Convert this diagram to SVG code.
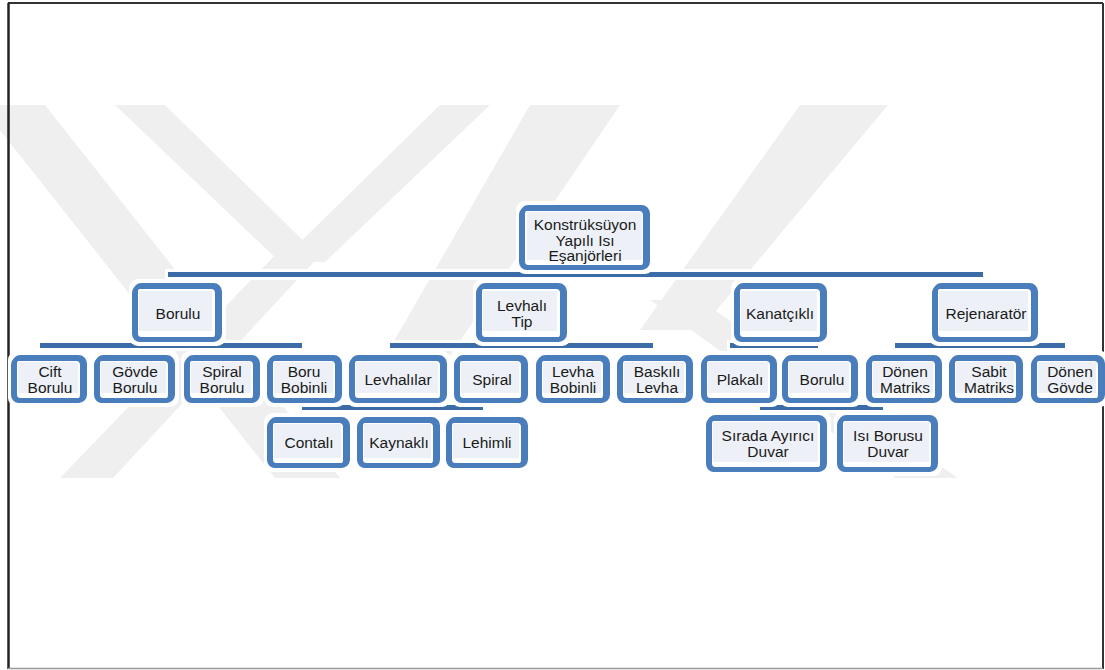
<svg xmlns="http://www.w3.org/2000/svg" width="1105" height="670" viewBox="0 0 1105 670">
<style>
.wm{fill:#efefef}
.halo{fill:#ffffff}
.b1{fill:#ffffff;stroke:#4a7dbc;stroke-width:5}
.b2{fill:none;stroke:#4a7dbc;stroke-width:4}
.in{fill:#edf1f7}
.bar{fill:#3c6ca8}
.barh{fill:#ffffff}
text{font-family:"Liberation Sans",Arial,sans-serif;font-size:15.5px;fill:#1a1a1a;text-anchor:middle}
</style>
<rect x="0" y="0" width="1105" height="670" fill="#ffffff"/>
<g id="watermark">
<polygon class="wm" points="-20,105 45,105 340,478 275,478"/>
<polygon class="wm" points="115,105 165,105 325,262 280,262"/>
<polygon class="wm" points="440,105 490,105 325,262 280,262"/>
<polygon class="wm" points="280,250 325,250 113,478 60,478"/>
<polygon class="wm" points="530,105 620,105 420,400 360,400"/>
<polygon class="wm" points="800,105 888,105 700,330 640,330"/>
<polygon class="wm" points="650,300 700,300 958,478 895,478"/>
</g>
<g id="frame">
<line x1="8" y1="3" x2="1103" y2="3" stroke="#333" stroke-width="2"/>
<line x1="8.5" y1="3" x2="8.5" y2="669" stroke="#222" stroke-width="2.5"/>
<line x1="1103" y1="3" x2="1103" y2="669" stroke="#333" stroke-width="2"/>
<line x1="8" y1="668.5" x2="1103" y2="668.5" stroke="#999" stroke-width="1.5"/>
</g>
<g id="connectors">
<rect class="barh" x="165" y="269" width="821" height="11"/>
<rect class="bar" x="168" y="272" width="815" height="5"/>
<rect class="barh" x="37" y="340" width="268" height="11"/>
<rect class="bar" x="40" y="343" width="262" height="5"/>
<rect class="barh" x="387" y="340" width="269" height="11"/>
<rect class="bar" x="390" y="343" width="263" height="5"/>
<rect class="barh" x="727" y="340" width="94" height="11"/>
<rect class="bar" x="730" y="343" width="88" height="5"/>
<rect class="barh" x="892" y="340" width="176" height="11"/>
<rect class="bar" x="895" y="343" width="170" height="5"/>
<rect class="barh" x="299" y="402" width="187" height="11"/>
<rect class="bar" x="302" y="405" width="181" height="5"/>
<rect class="barh" x="757" y="402" width="129" height="11"/>
<rect class="bar" x="760" y="405" width="123" height="5"/>
</g>
<g id="root">
<rect class="halo" x="516" y="201" width="138" height="73" rx="9"/>
<rect class="b1" x="522.5" y="207.5" width="125" height="60" rx="6"/>
<rect class="b2" x="521" y="209" width="124" height="59" rx="6"/>
<rect class="in" x="527" y="212" width="115" height="48"/>
<text x="585" y="230">Konstrüksüyon</text>
<text x="585" y="245.5">Yapılı Isı</text>
<text x="585" y="261">Eşanjörleri</text>
</g>
<g id="n-borulu">
<rect class="halo" x="129" y="279" width="97" height="67" rx="9"/>
<rect class="b1" x="135.5" y="285.5" width="84" height="54" rx="6"/>
<rect class="b2" x="134" y="287" width="83" height="53" rx="6"/>
<rect class="in" x="139" y="291" width="73" height="40"/>
<text x="178" y="319">Borulu</text>
</g>
<g id="n-levhali">
<rect class="halo" x="473" y="279" width="98" height="67" rx="9"/>
<rect class="b1" x="479.5" y="285.5" width="85" height="54" rx="6"/>
<rect class="b2" x="478" y="287" width="84" height="53" rx="6"/>
<rect class="in" x="483" y="291" width="74" height="40"/>
<text x="522" y="311">Levhalı</text>
<text x="522" y="327">Tip</text>
</g>
<g id="n-kanatcikli">
<rect class="halo" x="731" y="279" width="100" height="67" rx="9"/>
<rect class="b1" x="737.5" y="285.5" width="87" height="54" rx="6"/>
<rect class="b2" x="736" y="287" width="86" height="53" rx="6"/>
<rect class="in" x="741" y="291" width="76" height="40"/>
<text x="780" y="319">Kanatçıklı</text>
</g>
<g id="n-rejenarator">
<rect class="halo" x="929" y="279" width="113" height="67" rx="9"/>
<rect class="b1" x="935.5" y="285.5" width="100" height="54" rx="6"/>
<rect class="b2" x="934" y="287" width="99" height="53" rx="6"/>
<rect class="in" x="939" y="291" width="89" height="40"/>
<text x="986" y="319">Rejenaratör</text>
</g>
<g id="n-cift">
<rect class="halo" x="8" y="351" width="83" height="56" rx="9"/>
<rect class="b1" x="14.5" y="357.5" width="70" height="43" rx="6"/>
<rect class="b2" x="13" y="359" width="69" height="42" rx="6"/>
<rect class="in" x="18" y="362" width="60" height="31"/>
<text x="50" y="377">Cift</text>
<text x="50" y="393">Borulu</text>
</g>
<g id="n-govde">
<rect class="halo" x="91" y="351" width="88" height="56" rx="9"/>
<rect class="b1" x="97.5" y="357.5" width="75" height="43" rx="6"/>
<rect class="b2" x="96" y="359" width="74" height="42" rx="6"/>
<rect class="in" x="101" y="362" width="65" height="31"/>
<text x="135" y="377">Gövde</text>
<text x="135" y="393">Borulu</text>
</g>
<g id="n-spiralborulu">
<rect class="halo" x="181" y="351" width="83" height="56" rx="9"/>
<rect class="b1" x="187.5" y="357.5" width="70" height="43" rx="6"/>
<rect class="b2" x="186" y="359" width="69" height="42" rx="6"/>
<rect class="in" x="191" y="362" width="60" height="31"/>
<text x="222" y="377">Spiral</text>
<text x="222" y="393">Borulu</text>
</g>
<g id="n-borubobinli">
<rect class="halo" x="264" y="351" width="82" height="56" rx="9"/>
<rect class="b1" x="270.5" y="357.5" width="69" height="43" rx="6"/>
<rect class="b2" x="269" y="359" width="68" height="42" rx="6"/>
<rect class="in" x="274" y="362" width="59" height="31"/>
<text x="304" y="377">Boru</text>
<text x="304" y="393">Bobinli</text>
</g>
<g id="n-levhalilar">
<rect class="halo" x="346" y="351" width="105" height="56" rx="9"/>
<rect class="b1" x="352.5" y="357.5" width="92" height="43" rx="6"/>
<rect class="b2" x="351" y="359" width="91" height="42" rx="6"/>
<rect class="in" x="356" y="362" width="82" height="31"/>
<text x="398" y="385">Levhalılar</text>
</g>
<g id="n-spiral">
<rect class="halo" x="451" y="351" width="81" height="56" rx="9"/>
<rect class="b1" x="457.5" y="357.5" width="68" height="43" rx="6"/>
<rect class="b2" x="456" y="359" width="67" height="42" rx="6"/>
<rect class="in" x="461" y="362" width="58" height="31"/>
<text x="492" y="385">Spiral</text>
</g>
<g id="n-levhabobinli">
<rect class="halo" x="533" y="351" width="81" height="56" rx="9"/>
<rect class="b1" x="539.5" y="357.5" width="68" height="43" rx="6"/>
<rect class="b2" x="538" y="359" width="67" height="42" rx="6"/>
<rect class="in" x="543" y="362" width="58" height="31"/>
<text x="573" y="377">Levha</text>
<text x="573" y="393">Bobinli</text>
</g>
<g id="n-baskili">
<rect class="halo" x="614" y="351" width="83" height="56" rx="9"/>
<rect class="b1" x="620.5" y="357.5" width="70" height="43" rx="6"/>
<rect class="b2" x="619" y="359" width="69" height="42" rx="6"/>
<rect class="in" x="624" y="362" width="60" height="31"/>
<text x="657" y="377">Baskılı</text>
<text x="657" y="393">Levha</text>
</g>
<g id="n-plakali">
<rect class="halo" x="698" y="351" width="83" height="56" rx="9"/>
<rect class="b1" x="704.5" y="357.5" width="70" height="43" rx="6"/>
<rect class="b2" x="703" y="359" width="69" height="42" rx="6"/>
<rect class="in" x="708" y="362" width="60" height="31"/>
<text x="740" y="385">Plakalı</text>
</g>
<g id="n-borulu2">
<rect class="halo" x="779" y="351" width="83" height="56" rx="9"/>
<rect class="b1" x="785.5" y="357.5" width="70" height="43" rx="6"/>
<rect class="b2" x="784" y="359" width="69" height="42" rx="6"/>
<rect class="in" x="789" y="362" width="60" height="31"/>
<text x="822" y="385">Borulu</text>
</g>
<g id="n-donenmatriks">
<rect class="halo" x="863" y="351" width="83" height="56" rx="9"/>
<rect class="b1" x="869.5" y="357.5" width="70" height="43" rx="6"/>
<rect class="b2" x="868" y="359" width="69" height="42" rx="6"/>
<rect class="in" x="873" y="362" width="60" height="31"/>
<text x="905" y="377">Dönen</text>
<text x="905" y="393">Matriks</text>
</g>
<g id="n-sabitmatriks">
<rect class="halo" x="946" y="351" width="81" height="56" rx="9"/>
<rect class="b1" x="952.5" y="357.5" width="68" height="43" rx="6"/>
<rect class="b2" x="951" y="359" width="67" height="42" rx="6"/>
<rect class="in" x="956" y="362" width="58" height="31"/>
<text x="989" y="377">Sabit</text>
<text x="989" y="393">Matriks</text>
</g>
<g id="n-donengovde">
<rect class="halo" x="1028" y="351" width="81" height="56" rx="9"/>
<rect class="b1" x="1034.5" y="357.5" width="68" height="43" rx="6"/>
<rect class="b2" x="1033" y="359" width="67" height="42" rx="6"/>
<rect class="in" x="1038" y="362" width="58" height="31"/>
<text x="1070" y="377">Dönen</text>
<text x="1070" y="393">Gövde</text>
</g>
<g id="n-contali">
<rect class="halo" x="264" y="413" width="90" height="59" rx="9"/>
<rect class="b1" x="270.5" y="419.5" width="77" height="46" rx="6"/>
<rect class="b2" x="269" y="421" width="76" height="45" rx="6"/>
<rect class="in" x="274" y="424" width="67" height="34"/>
<text x="309" y="448">Contalı</text>
</g>
<g id="n-kaynakli">
<rect class="halo" x="354" y="413" width="90" height="59" rx="9"/>
<rect class="b1" x="360.5" y="419.5" width="77" height="46" rx="6"/>
<rect class="b2" x="359" y="421" width="76" height="45" rx="6"/>
<rect class="in" x="364" y="424" width="67" height="34"/>
<text x="399" y="448">Kaynaklı</text>
</g>
<g id="n-lehimli">
<rect class="halo" x="443" y="413" width="89" height="59" rx="9"/>
<rect class="b1" x="449.5" y="419.5" width="76" height="46" rx="6"/>
<rect class="b2" x="448" y="421" width="75" height="45" rx="6"/>
<rect class="in" x="453" y="424" width="66" height="34"/>
<text x="487" y="448">Lehimli</text>
</g>
<g id="n-sirada">
<rect class="halo" x="703" y="411" width="128" height="65" rx="9"/>
<rect class="b1" x="709.5" y="417.5" width="115" height="52" rx="6"/>
<rect class="b2" x="708" y="419" width="114" height="51" rx="6"/>
<rect class="in" x="713" y="422" width="105" height="40"/>
<text x="768" y="441">Sırada Ayırıcı</text>
<text x="768" y="457">Duvar</text>
</g>
<g id="n-isiborusu">
<rect class="halo" x="834" y="411" width="108" height="65" rx="9"/>
<rect class="b1" x="840.5" y="417.5" width="95" height="52" rx="6"/>
<rect class="b2" x="839" y="419" width="94" height="51" rx="6"/>
<rect class="in" x="844" y="422" width="85" height="40"/>
<text x="888" y="441">Isı Borusu</text>
<text x="888" y="457">Duvar</text>
</g>
</svg>
